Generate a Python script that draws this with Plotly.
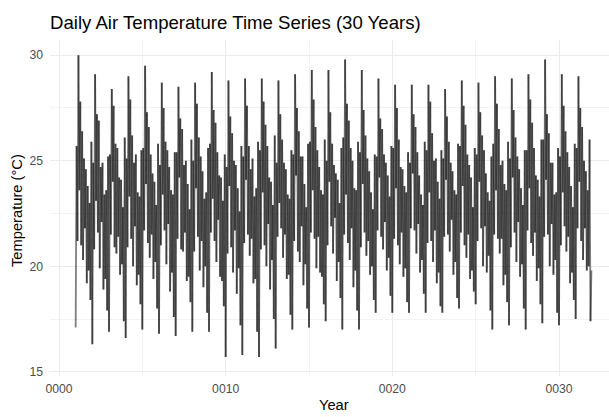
import plotly.graph_objects as go

# ---- data (one list per year, 18 samples per year) ----
samples_per_year = 18
y01 = [17.1, 25.7, 21.2, 30.0, 23.6, 27.8, 21.0, 26.4, 20.3, 25.1, 21.8, 24.6, 19.2, 23.8, 19.8, 23.0, 18.4, 25.9]
y02 = [16.3, 24.9, 20.8, 29.1, 23.1, 27.2, 21.6, 26.9, 19.9, 24.7, 22.1, 24.9, 18.9, 23.4, 19.4, 23.6, 17.9, 25.2]
y03 = [16.9, 25.3, 21.5, 28.4, 24.0, 27.6, 20.9, 25.8, 20.6, 25.6, 21.4, 24.2, 19.6, 24.1, 20.1, 22.8, 17.4, 26.1]
y04 = [16.6, 25.1, 20.9, 29.0, 23.3, 27.9, 21.3, 26.2, 20.0, 24.9, 21.9, 25.3, 19.1, 23.5, 19.6, 23.3, 18.2, 25.5]
y05 = [17.0, 25.6, 21.7, 29.5, 23.9, 27.3, 21.1, 26.6, 20.4, 25.3, 21.5, 24.4, 19.4, 24.0, 20.2, 22.9, 18.0, 25.8]
y06 = [16.8, 24.8, 21.0, 28.7, 23.4, 27.5, 21.7, 25.9, 20.1, 25.5, 22.0, 24.7, 18.8, 23.6, 19.7, 23.4, 17.6, 25.4]
y07 = [16.7, 25.4, 21.3, 28.5, 24.2, 27.0, 20.8, 26.5, 20.7, 24.8, 21.6, 25.0, 19.3, 23.9, 19.5, 22.7, 18.3, 26.0]
y08 = [16.9, 25.0, 20.7, 28.7, 23.7, 27.7, 21.4, 26.1, 19.8, 25.2, 21.2, 24.5, 19.0, 23.2, 20.0, 23.5, 17.8, 25.6]
y09 = [16.9, 25.8, 21.6, 29.2, 23.2, 27.4, 21.2, 26.8, 20.2, 25.4, 22.2, 24.3, 19.5, 24.2, 19.3, 23.1, 18.1, 25.3]
y10 = [15.7, 24.7, 20.6, 28.8, 23.8, 27.1, 20.9, 26.3, 19.7, 25.0, 21.7, 24.8, 18.7, 23.7, 19.9, 22.6, 17.2, 25.7]
y11 = [15.8, 25.2, 21.1, 28.9, 24.1, 27.6, 21.5, 25.7, 20.5, 24.6, 21.3, 25.1, 19.2, 23.3, 19.4, 23.7, 16.9, 25.9]
y12 = [15.7, 25.5, 20.8, 28.9, 23.5, 27.8, 21.0, 26.7, 20.0, 25.7, 22.0, 24.2, 18.9, 24.0, 20.3, 22.9, 17.5, 26.2]
y13 = [16.1, 24.9, 21.4, 28.8, 23.0, 27.2, 21.8, 26.0, 20.4, 24.9, 21.5, 24.6, 19.4, 23.4, 19.6, 23.2, 17.7, 25.5]
y14 = [17.0, 25.3, 21.2, 29.1, 24.3, 27.5, 20.7, 26.4, 20.2, 25.2, 21.9, 25.2, 19.1, 23.9, 20.1, 22.8, 18.0, 25.8]
y15 = [17.1, 25.9, 21.6, 29.3, 23.6, 27.9, 21.3, 26.6, 19.9, 25.5, 21.4, 24.7, 19.7, 23.6, 19.5, 23.4, 18.2, 26.0]
y16 = [17.4, 25.0, 21.0, 29.3, 24.0, 27.3, 21.9, 25.8, 20.6, 24.8, 22.3, 24.4, 19.3, 24.1, 20.2, 23.0, 18.5, 25.6]
y17 = [17.0, 26.1, 21.5, 29.8, 23.4, 27.7, 21.1, 26.9, 20.3, 25.6, 21.8, 25.0, 19.0, 23.7, 19.8, 23.6, 17.9, 25.9]
y18 = [17.0, 25.4, 20.9, 29.3, 23.9, 27.4, 21.6, 26.2, 20.5, 25.1, 21.2, 24.5, 19.6, 23.5, 20.0, 22.7, 18.4, 25.3]
y19 = [17.8, 25.2, 21.7, 28.9, 24.2, 27.0, 21.4, 26.5, 20.8, 25.3, 22.1, 24.9, 19.8, 24.3, 20.4, 23.3, 18.6, 25.7]
y20 = [17.8, 25.6, 21.3, 28.6, 23.7, 27.5, 21.0, 26.0, 20.1, 24.7, 21.6, 24.6, 19.5, 23.8, 19.9, 23.5, 18.3, 25.4]
y21 = [17.8, 24.9, 21.8, 28.6, 24.4, 27.2, 21.7, 26.6, 20.6, 25.4, 22.0, 24.3, 19.7, 23.4, 20.3, 22.9, 18.7, 25.9]
y22 = [17.8, 25.5, 21.1, 28.6, 23.5, 27.8, 21.2, 26.3, 20.2, 25.0, 21.7, 25.1, 19.2, 24.0, 19.7, 23.2, 18.1, 25.5]
y23 = [17.8, 25.1, 21.4, 28.4, 24.1, 27.1, 21.5, 25.9, 20.7, 24.9, 22.2, 24.5, 19.6, 23.6, 20.2, 23.4, 18.5, 25.8]
y24 = [18.0, 25.7, 21.6, 28.8, 23.8, 27.6, 21.0, 26.7, 20.4, 25.3, 21.5, 24.8, 19.4, 24.2, 19.8, 22.8, 18.8, 25.6]
y25 = [18.2, 25.3, 21.2, 28.7, 24.0, 27.3, 21.8, 26.2, 20.0, 25.5, 21.9, 24.4, 19.7, 23.5, 20.5, 23.1, 17.9, 25.2]
y26 = [17.0, 25.8, 21.5, 29.0, 23.6, 27.7, 21.3, 26.5, 20.6, 24.8, 21.3, 25.0, 19.1, 23.9, 19.6, 23.6, 18.3, 25.9]
y27 = [17.2, 25.1, 20.9, 28.9, 24.2, 27.4, 21.6, 26.1, 20.2, 25.2, 22.1, 24.6, 19.5, 23.7, 20.1, 22.9, 18.0, 25.5]
y28 = [17.0, 25.5, 21.7, 29.1, 23.7, 27.9, 21.1, 26.8, 20.5, 25.6, 21.6, 24.3, 19.3, 24.1, 19.9, 23.3, 18.2, 26.0]
y29 = [17.3, 26.0, 21.4, 29.8, 24.1, 27.2, 21.5, 26.3, 20.0, 24.9, 22.0, 24.9, 19.6, 23.4, 20.3, 23.5, 17.8, 25.6]
y30 = [17.2, 25.2, 21.0, 29.1, 23.5, 27.6, 21.9, 26.4, 20.7, 25.4, 21.4, 24.7, 19.2, 23.8, 19.7, 22.8, 18.4, 25.8]
y31 = [17.5, 25.6, 21.8, 29.0, 24.0, 27.5, 21.2, 26.6, 20.3, 25.0, 21.8, 24.5, 19.8, 23.6, 20.0, 26.0, 17.4, 19.8]

years = list(range(1, 32))
year_series = [y01, y02, y03, y04, y05, y06, y07, y08, y09, y10, y11, y12, y13, y14, y15, y16,
               y17, y18, y19, y20, y21, y22, y23, y24, y25, y26, y27, y28, y29, y30, y31]

x_tickvals = [0, 10, 20, 30]
x_ticktext = ["0000", "0010", "0020", "0030"]
y_tickvals = [15, 20, 25, 30]

# time coordinate (fractional year) for every sample
t, temp = [], []
for yr, vals in zip(years, year_series):
    for i, v in enumerate(vals):
        t.append(yr + i / samples_per_year)
        temp.append(v)

FONT = "Liberation Sans, Arial, sans-serif"

fig = go.Figure()
# draw the series as consecutive 2-point pieces so overlapping strokes darken like the reference
for i in range(len(t) - 1):
    fig.add_trace(go.Scatter(x=t[i:i + 2], y=temp[i:i + 2], mode="lines",
                             line=dict(color="rgba(0,0,0,0.5)", width=1.8),
                             hoverinfo="skip", showlegend=False))

L, R, T, B = 50, 0, 40, 41
W, H = 609, 417
ph = H - T - B

fig.update_layout(
    width=W, height=H,
    margin=dict(l=L, r=R, t=T, b=B, pad=0),
    paper_bgcolor="white", plot_bgcolor="white",
    font=dict(family=FONT),
    xaxis=dict(range=[-0.54, 33.0], tickmode="array", tickvals=x_tickvals, ticktext=x_ticktext,
               showgrid=True, gridcolor="#EBEBEB", gridwidth=1.1, zeroline=False, showline=False,
               ticks="", ticklabelstandoff=4,
               tickfont=dict(family=FONT, size=12.2, color="#4D4D4D"),
               minor=dict(tickmode="array", tickvals=[5, 15, 25], showgrid=True,
                          gridcolor="#F3F3F3", gridwidth=0.6, ticks="")),
    yaxis=dict(range=[14.8, 30.72], tickmode="array", tickvals=y_tickvals,
               showgrid=True, gridcolor="#EBEBEB", gridwidth=1.1, zeroline=False, showline=False,
               ticks="", ticklabelstandoff=6,
               tickfont=dict(family=FONT, size=12.2, color="#4D4D4D"),
               minor=dict(tickmode="array", tickvals=[17.5, 22.5, 27.5], showgrid=True,
                          gridcolor="#F3F3F3", gridwidth=0.6, ticks="")),
    annotations=[
        dict(text="Daily Air Temperature Time Series (30 Years)", xref="paper", yref="paper",
             x=(47.5 - L) / (W - L - R), y=1 + (T - 23) / ph, xanchor="left", yanchor="middle",
             showarrow=False, font=dict(family=FONT, size=18.6, color="black")),
        dict(text="Year", xref="paper", yref="paper",
             x=(334 - L) / (W - L - R), y=-(405 - (H - B)) / ph, xanchor="center", yanchor="middle",
             showarrow=False, font=dict(family=FONT, size=14.7, color="black")),
        dict(text="Temperature (°C)", xref="paper", yref="paper", textangle=-90,
             x=-(L - 17) / (W - L - R), y=1 - (211 - T) / ph, xanchor="center", yanchor="middle",
             showarrow=False, font=dict(family=FONT, size=14.7, color="black")),
    ],
)

fig.write_html("out.html")
